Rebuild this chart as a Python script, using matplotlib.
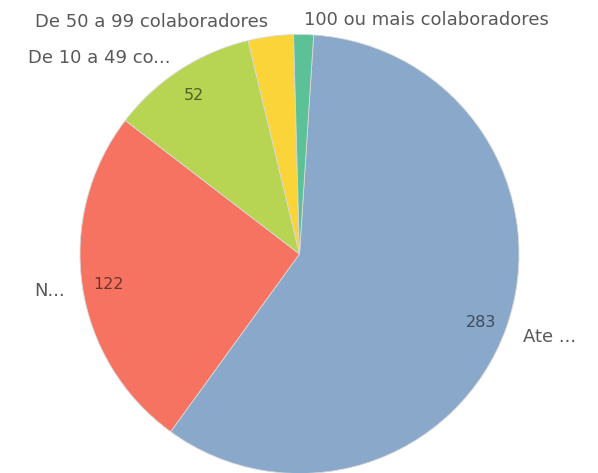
import matplotlib.pyplot as plt

labels = ['Ate ...', 'N...', 'De 10 a 49 co...', 'De 50 a 99 colaboradores', '100 ou mais colaboradores']
values = [283, 122, 52, 16, 7]
colors = ['#8aa8c9', '#f77361', '#b7d553', '#fbd43a', '#5cc197']

total = sum(values)


def show_value(pct):
    # Qlik esconde o valor nas fatias pequenas
    if pct < 5:
        return ''
    return '{:d}'.format(int(round(pct * total / 100.0)))


fig = plt.figure(figsize=(5.98, 4.73), dpi=100)
ax = fig.add_axes([0, 0, 1, 1])

wedges, texts, autotexts = ax.pie(
    values, labels=labels, colors=colors, startangle=86.3, counterclock=False,
    radius=1.0, labeldistance=1.08, pctdistance=0.88, autopct=show_value,
    wedgeprops=dict(edgecolor='#d8d8d8', linewidth=0.6),
    textprops=dict(family='DejaVu Sans'), frame=False)

# pixel scale: raio ~219.5 px, centro em (299.5, 254)
r_px = 219.5
cx, cy = 299.5, 254.0
dy = 3.0 / r_px

for t in texts:
    t.set_fontsize(13)
    t.set_color('#595959')
    t.set_y(t.get_position()[1] - dy)
for t in autotexts:
    t.set_fontsize(11.5)
    t.set_color('black')
    t.set_alpha(0.55)
    t.set_y(t.get_position()[1] - dy)

ax.set_xlim(-cx / r_px, (598 - cx) / r_px)
ax.set_ylim(-(473 - cy) / r_px, cy / r_px)
ax.set_aspect('auto')
ax.axis('off')

fig.savefig('out.png', dpi=100, facecolor='white')
